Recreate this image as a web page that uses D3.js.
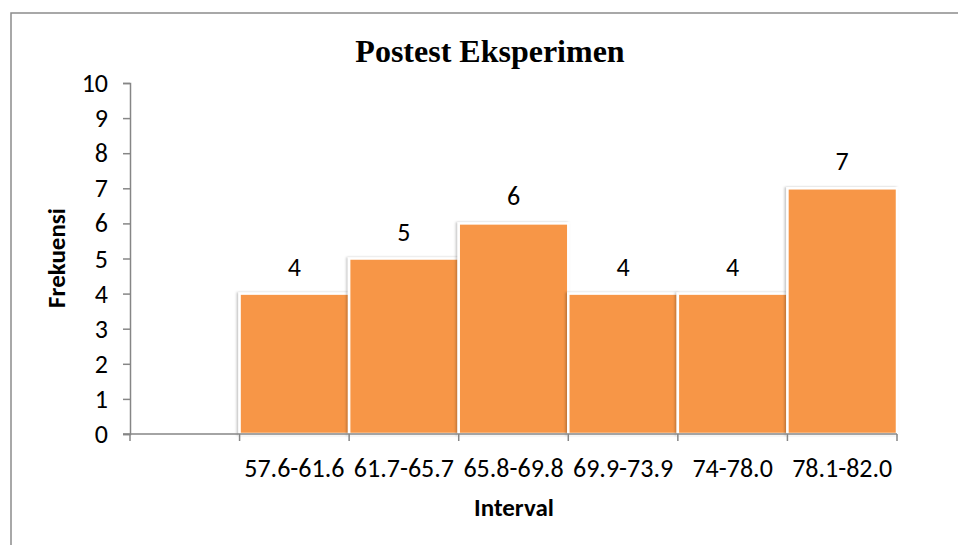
<!DOCTYPE html>
<html>
<head>
<meta charset="utf-8">
<script src="https://cdn.jsdelivr.net/npm/d3@7"></script>
<style>
  html, body { margin: 0; padding: 0; background: #fff; }
  svg { display: block; }
</style>
</head>
<body>
<svg id="chart" width="958" height="545"></svg>
<script>
// Frequency table of post-test scores (experimental group)
const intervals = ["", "57.6-61.6", "61.7-65.7", "65.8-69.8", "69.9-73.9", "74-78.0", "78.1-82.0"];
const frequencies = [null, 4, 5, 6, 4, 4, 7];
const yTicks = [0, 1, 2, 3, 4, 5, 6, 7, 8, 9, 10];

const titleText = "Postest Eksperimen";
const xTitle = "Interval";
const yTitle = "Frekuensi";

const W = 958, H = 545;
const margin = { left: 130, right: 61, top: 83, bottom: 111 };
const sansFont = "Carlito, Lato, 'Open Sans', sans-serif";
const labelSize = 26;

const svg = d3.select("#chart");

// chart area frame
svg.append("rect")
  .attr("x", 11).attr("y", 13)
  .attr("width", W + 20).attr("height", H + 20)
  .attr("fill", "#fff")
  .attr("stroke", "#8c8c8c")
  .attr("stroke-width", 1.5);

const x = d3.scaleBand()
  .domain(intervals.map((d, i) => i))
  .range([margin.left, W - margin.right])
  .padding(0);

const y = d3.scaleLinear()
  .domain([0, 10])
  .range([H - margin.bottom, margin.top]);

// soft shadow under the bars
const defs = svg.append("defs");
const f = defs.append("filter").attr("id", "shadow")
  .attr("x", "-5%").attr("y", "-5%").attr("width", "110%").attr("height", "110%");
f.append("feDropShadow")
  .attr("dx", -1.5).attr("dy", 0).attr("stdDeviation", 1)
  .attr("flood-color", "#000").attr("flood-opacity", 0.25);

const data = intervals.map((c, i) => ({ i, label: c, value: frequencies[i] }))
  .filter(d => d.value !== null);

svg.append("g")
  .selectAll("rect")
  .data(data)
  .join("rect")
  .attr("x", d => x(d.i))
  .attr("y", d => y(d.value))
  .attr("width", x.bandwidth())
  .attr("height", d => y(0) - y(d.value))
  .attr("fill", "#F79646")
  .attr("stroke", "#fff")
  .attr("stroke-width", 2.5)
  .attr("filter", "url(#shadow)");

// value labels
svg.append("g")
  .selectAll("text")
  .data(data)
  .join("text")
  .attr("x", d => x(d.i) + x.bandwidth() / 2)
  .attr("y", d => y(d.value) - 18)
  .attr("text-anchor", "middle")
  .attr("font-family", sansFont)
  .attr("font-size", labelSize)
  .attr("fill", "#000")
  .text(d => d.value);

// y axis
const yAxis = svg.append("g")
  .attr("transform", `translate(${margin.left},0)`)
  .call(d3.axisLeft(y).tickValues(yTicks).tickFormat(d3.format("d")).tickSize(7).tickPadding(15));
yAxis.select(".domain").attr("stroke", "#868686").attr("stroke-width", 1.5);
yAxis.selectAll(".tick line").attr("stroke", "#868686").attr("stroke-width", 1.5);
yAxis.selectAll("text")
  .attr("font-family", sansFont).attr("font-size", labelSize).attr("fill", "#000")
  .attr("dy", "0.33em");

// x axis: ticks sit on the band boundaries
const xAxisG = svg.append("g").attr("transform", `translate(0,${y(0)})`);
const [x0, x1] = x.range();
xAxisG.append("line")
  .attr("x1", x0 - 7).attr("x2", x1)
  .attr("stroke", "#868686").attr("stroke-width", 1.5);
const boundaries = d3.range(intervals.length + 1).map(k => x0 + k * x.step());
xAxisG.selectAll(".bt")
  .data(boundaries)
  .join("line")
  .attr("class", "bt")
  .attr("x1", d => d).attr("x2", d => d)
  .attr("y1", 0).attr("y2", 7)
  .attr("stroke", "#868686").attr("stroke-width", 1.5);
xAxisG.selectAll(".lbl")
  .data(data)
  .join("text")
  .attr("class", "lbl")
  .attr("x", d => x(d.i) + x.bandwidth() / 2)
  .attr("y", 43)
  .attr("text-anchor", "middle")
  .attr("font-family", sansFont)
  .attr("font-size", labelSize)
  .attr("fill", "#000")
  .text(d => d.label);

// titles
svg.append("text")
  .attr("x", 490).attr("y", 62)
  .attr("text-anchor", "middle")
  .attr("font-family", "'Liberation Serif', 'Times New Roman', serif")
  .attr("font-weight", "bold")
  .attr("font-size", 32)
  .text(titleText);

svg.append("text")
  .attr("x", 514).attr("y", 516)
  .attr("text-anchor", "middle")
  .attr("font-family", sansFont)
  .attr("font-weight", "bold")
  .attr("font-size", 25)
  .text(xTitle);

svg.append("text")
  .attr("transform", "translate(65,258) rotate(-90)")
  .attr("text-anchor", "middle")
  .attr("font-family", sansFont)
  .attr("font-weight", "bold")
  .attr("font-size", 25)
  .text(yTitle);
</script>
</body>
</html>
